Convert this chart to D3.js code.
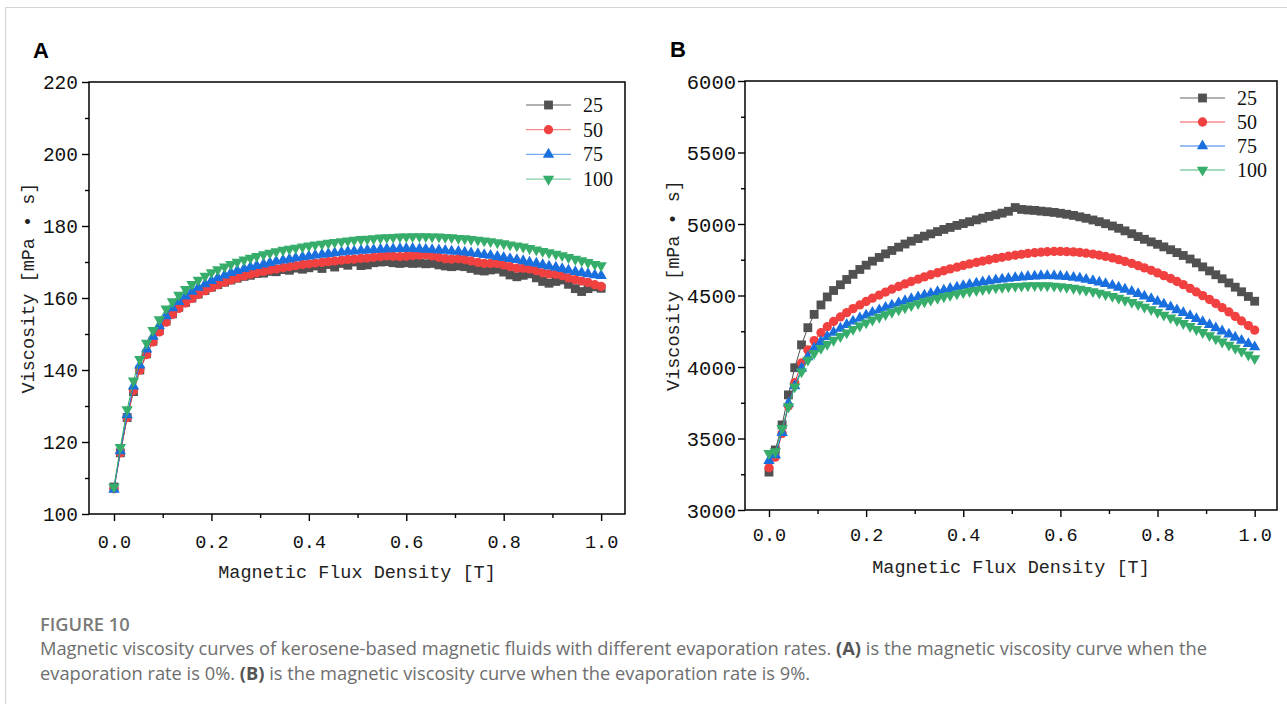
<!DOCTYPE html>
<html>
<head>
<meta charset="utf-8">
<title>Magnetic viscosity curves</title>
<script src="https://cdnjs.cloudflare.com/ajax/libs/d3/7.8.5/d3.min.js"></script>
<style>
  body { margin: 0; background: #fff; }
  svg { display: block; }
</style>
</head>
<body>
<div id="chart"></div>
<script>
// magnetic flux density [T], same sampling for every curve
var flux = [0, 0.013, 0.027, 0.040, 0.053, 0.067, 0.080, 0.093, 0.107, 0.120,
  0.133, 0.147, 0.160, 0.173, 0.187, 0.200, 0.213, 0.227, 0.240, 0.253,
  0.267, 0.280, 0.293, 0.307, 0.320, 0.333, 0.347, 0.360, 0.373, 0.387,
  0.400, 0.413, 0.427, 0.440, 0.453, 0.467, 0.480, 0.493, 0.507, 0.520,
  0.533, 0.547, 0.560, 0.573, 0.587, 0.600, 0.613, 0.627, 0.640, 0.653,
  0.667, 0.680, 0.693, 0.707, 0.720, 0.733, 0.747, 0.760, 0.773, 0.787,
  0.800, 0.813, 0.827, 0.840, 0.853, 0.867, 0.880, 0.893, 0.907, 0.920,
  0.933, 0.947, 0.960, 0.973, 0.987, 1.000];

var rates = ["25", "50", "75", "100"];

// panel A: evaporation rate 0%
var viscA25 = [107.5, 117.0, 126.8, 134.0, 140.0, 144.5, 148.0, 151.0, 153.6, 155.6,
  157.4, 158.8, 160.0, 161.1, 162.1, 163.0, 163.7, 164.4, 165.0, 165.5,
  166.0, 166.3, 166.8, 166.9, 167.4, 167.3, 167.9, 167.7, 168.3, 168.0,
  168.4, 168.9, 168.2, 169.3, 168.6, 169.6, 169.1, 170.0, 169.0, 169.2,
  169.8, 170.0, 170.1, 169.8, 169.6, 169.8, 169.6, 169.7, 169.5, 169.6,
  169.2, 168.9, 168.7, 168.9, 168.7, 168.2, 167.7, 167.5, 167.8, 168.0,
  167.2, 166.4, 165.9, 166.3, 166.7, 165.6, 164.6, 164.1, 164.6, 165.0,
  163.8, 162.6, 161.8, 162.6, 163.1, 162.7];
var viscA50 = [107.0, 117.0, 126.8, 134.3, 140.0, 144.3, 147.8, 150.6, 153.3, 155.4,
  157.1, 158.6, 159.9, 161.0, 162.0, 162.9, 163.7, 164.4, 165.0, 165.6,
  166.1, 166.6, 167.0, 167.4, 167.8, 168.1, 168.4, 168.7, 169.0, 169.3,
  169.5, 169.7, 169.9, 170.1, 170.3, 170.5, 170.7, 170.8, 171.0, 171.1,
  171.3, 171.5, 171.7, 171.6, 171.5, 171.6, 171.8, 171.9, 172.0, 171.7,
  171.3, 170.9, 170.8, 170.9, 170.7, 170.3, 169.9, 169.6, 169.6, 169.6,
  169.2, 168.7, 168.3, 168.3, 168.1, 167.6, 167.0, 166.7, 166.6, 166.2,
  165.6, 165.1, 164.7, 164.3, 163.7, 163.2];
var viscA75 = [106.8, 117.5, 127.5, 135.5, 141.3, 145.8, 149.3, 152.2, 155.0, 157.2,
  159.0, 160.5, 161.8, 162.9, 163.9, 164.8, 165.6, 166.3, 167.0, 167.6,
  168.1, 168.6, 169.0, 169.4, 169.8, 170.2, 170.5, 170.8, 171.1, 171.4,
  171.6, 171.9, 172.1, 172.3, 172.5, 172.7, 172.9, 173.0, 173.2, 173.3,
  173.4, 173.5, 173.6, 173.6, 173.7, 173.7, 173.7, 173.6, 173.5, 173.4,
  173.3, 173.2, 173.0, 172.9, 172.7, 172.5, 172.3, 172.0, 171.8, 171.5,
  171.2, 170.9, 170.6, 170.3, 169.9, 169.6, 169.2, 168.8, 168.5, 168.1,
  167.7, 167.3, 167.0, 166.7, 166.4, 166.2];
var viscA100 = [107.5, 118.5, 129.0, 137.0, 143.0, 147.5, 151.0, 154.0, 157.0, 159.0,
  160.8, 162.4, 163.8, 165.0, 166.1, 167.1, 167.9, 168.7, 169.4, 170.0,
  170.6, 171.1, 171.6, 172.1, 172.5, 172.9, 173.3, 173.6, 173.9, 174.2,
  174.5, 174.8, 175.0, 175.3, 175.5, 175.7, 175.9, 176.1, 176.3, 176.4,
  176.5, 176.7, 176.8, 176.9, 177.0, 177.0, 177.1, 177.1, 177.1, 177.0,
  177.0, 176.9, 176.8, 176.6, 176.5, 176.3, 176.1, 175.9, 175.7, 175.4,
  175.1, 174.8, 174.5, 174.2, 173.8, 173.4, 173.0, 172.6, 172.2, 171.8,
  171.3, 170.8, 170.4, 169.9, 169.4, 169.0];

// panel B: evaporation rate 9%
var viscB25 = [3265, 3420, 3595, 3805, 3995, 4155, 4275, 4368, 4434, 4490,
  4535, 4575, 4612, 4648, 4682, 4712, 4740, 4766, 4791, 4815,
  4838, 4860, 4880, 4898, 4915, 4931, 4947, 4962, 4976, 4990,
  5003, 5016, 5029, 5041, 5053, 5064, 5076, 5089, 5115, 5102,
  5098, 5095, 5090, 5086, 5081, 5075, 5068, 5060, 5050, 5040,
  5028, 5016, 5002, 4986, 4970, 4952, 4932, 4912, 4893, 4875,
  4858, 4840, 4820, 4800, 4780, 4755, 4728, 4700, 4672, 4645,
  4617, 4588, 4558, 4526, 4493, 4460];
var viscB50 = [3295, 3370, 3536, 3727, 3890, 4028, 4119, 4185, 4240, 4282,
  4318, 4350, 4380, 4408, 4434, 4458, 4481, 4503, 4524, 4544,
  4563, 4581, 4598, 4614, 4630, 4645, 4659, 4673, 4686, 4698,
  4710, 4721, 4731, 4741, 4750, 4759, 4767, 4775, 4782, 4788,
  4794, 4799, 4803, 4806, 4808, 4808, 4807, 4805, 4801, 4796,
  4790, 4782, 4773, 4763, 4751, 4738, 4724, 4709, 4693, 4676,
  4658, 4639, 4619, 4598, 4576, 4550, 4525, 4499, 4472, 4444,
  4415, 4385, 4354, 4322, 4290, 4258];
var viscB75 = [3345, 3385, 3541, 3746, 3867, 3990, 4070, 4130, 4177, 4212,
  4242, 4270, 4296, 4320, 4342, 4362, 4381, 4399, 4416, 4432,
  4447, 4462, 4476, 4489, 4502, 4514, 4526, 4537, 4548, 4558,
  4568, 4577, 4586, 4594, 4601, 4608, 4614, 4619, 4624, 4628,
  4632, 4635, 4637, 4638, 4637, 4635, 4631, 4626, 4620, 4612,
  4603, 4593, 4582, 4570, 4557, 4543, 4528, 4512, 4495, 4477,
  4458, 4439, 4419, 4399, 4379, 4358, 4337, 4316, 4295, 4273,
  4251, 4229, 4207, 4185, 4162, 4140];
var viscB100 = [3396, 3408, 3571, 3723, 3862, 3967, 4049, 4096, 4131, 4160,
  4188, 4214, 4240, 4264, 4288, 4310, 4330, 4349, 4367, 4384,
  4400, 4415, 4430, 4444, 4457, 4469, 4481, 4492, 4502, 4512,
  4521, 4529, 4536, 4543, 4549, 4554, 4558, 4562, 4565, 4567,
  4569, 4570, 4570, 4569, 4567, 4563, 4558, 4552, 4545, 4537,
  4528, 4518, 4507, 4495, 4482, 4468, 4453, 4437, 4420, 4402,
  4383, 4364, 4345, 4325, 4305, 4284, 4263, 4242, 4220, 4198,
  4176, 4154, 4132, 4110, 4085, 4060];

var xTicks = [0, 0.2, 0.4, 0.6, 0.8, 1.0];
var xTickLabels = ["0.0", "0.2", "0.4", "0.6", "0.8", "1.0"];
var xMinorTicks = [0.1, 0.3, 0.5, 0.7, 0.9];
var yTicksA = [100, 120, 140, 160, 180, 200, 220];
var yTickLabelsA = ["100", "120", "140", "160", "180", "200", "220"];
var yMinorA = [110, 130, 150, 170, 190, 210];
var yTicksB = [3000, 3500, 4000, 4500, 5000, 5500, 6000];
var yTickLabelsB = ["3000", "3500", "4000", "4500", "5000", "5500", "6000"];
var yMinorB = [3250, 3750, 4250, 4750, 5250, 5750];

var colors = ["#515151", "#F14040", "#1A6FDF", "#37AD6B"];
var symbols = [d3.symbolSquare, d3.symbolCircle, d3.symbolTriangle, d3.symbolTriangle];
var symbolSizes = [78, 68, 56, 56];
var rotations = [0, 0, 0, 180];

var width = 1287, height = 704;
var monoFont = '"Liberation Mono", monospace';

var svg = d3.select("#chart").append("svg")
    .attr("width", width)
    .attr("height", height);

// page frame
svg.append("path")
    .attr("d", "M5.5,704V7.5H1287")
    .attr("fill", "none")
    .attr("stroke", "#d4d4d4")
    .attr("stroke-width", 1.2);

function drawPanel(p) {
  var x = d3.scaleLinear().domain(p.xDomain).range([p.left, p.right]);
  var y = d3.scaleLinear().domain(p.yDomain).range([p.bottom, p.top]);
  var g = svg.append("g");

  // minor ticks
  g.append("g")
      .attr("transform", "translate(0," + p.bottom + ")")
      .call(d3.axisBottom(x).tickValues(xMinorTicks).tickSize(4).tickSizeOuter(0).tickFormat(""))
      .call(function (a) { a.select(".domain").remove(); });
  g.append("g")
      .attr("transform", "translate(" + p.left + ",0)")
      .call(d3.axisLeft(y).tickValues(p.yMinor).tickSize(4).tickSizeOuter(0).tickFormat(""))
      .call(function (a) { a.select(".domain").remove(); });

  // major ticks
  var xa = g.append("g")
      .attr("transform", "translate(0," + p.bottom + ")")
      .call(d3.axisBottom(x).tickValues(xTicks).tickSize(7).tickSizeOuter(0)
        .tickFormat(function (d, i) { return xTickLabels[i]; }));
  xa.select(".domain").remove();
  xa.selectAll("text")
      .attr("y", p.xLabelDy)
      .attr("dy", 0)
      .style("font-family", monoFont)
      .style("font-size", "18.5px")
      .attr("fill", "#111");

  var ya = g.append("g")
      .attr("transform", "translate(" + p.left + ",0)")
      .call(d3.axisLeft(y).tickValues(p.yTicks).tickSize(7).tickSizeOuter(0)
        .tickFormat(function (d, i) { return p.yLabels[i]; }));
  ya.select(".domain").remove();
  ya.selectAll("text")
      .attr("x", -p.yLabelGap)
      .attr("dy", "0.35em")
      .style("font-family", monoFont)
      .style("font-size", p.yFont)
      .attr("fill", "#111");
  g.selectAll(".tick line").attr("stroke-width", 1.4);

  // series
  p.series.forEach(function (vals, k) {
    var pts = flux.map(function (f, i) { return [f, vals[i]]; });
    g.append("path")
        .datum(pts)
        .attr("d", d3.line().x(function (d) { return x(d[0]); }).y(function (d) { return y(d[1]); }))
        .attr("fill", "none")
        .attr("stroke", colors[k])
        .attr("stroke-width", 1);
    g.append("g").selectAll("path")
        .data(pts)
      .enter().append("path")
        .attr("transform", function (d) {
          return "translate(" + x(d[0]) + "," + y(d[1]) + ") rotate(" + rotations[k] + ")";
        })
        .attr("d", d3.symbol().type(symbols[k]).size(symbolSizes[k]))
        .attr("fill", colors[k]);
  });

  // frame
  g.append("rect")
      .attr("x", p.left)
      .attr("y", p.top)
      .attr("width", p.right - p.left)
      .attr("height", p.bottom - p.top)
      .attr("fill", "none")
      .attr("stroke", "#000")
      .attr("stroke-width", 1.5);

  // legend
  rates.forEach(function (r, k) {
    var ly = p.legendY + k * p.legendStep;
    g.append("line")
        .attr("x1", p.legendX).attr("x2", p.legendX + 45)
        .attr("y1", ly).attr("y2", ly)
        .attr("stroke", colors[k])
        .attr("stroke-opacity", 0.6)
        .attr("stroke-width", 1.3);
    g.append("path")
        .attr("transform", "translate(" + (p.legendX + 22.5) + "," + ly + ") rotate(" + rotations[k] + ")")
        .attr("d", d3.symbol().type(symbols[k]).size(symbolSizes[k]))
        .attr("fill", colors[k]);
    g.append("text")
        .attr("x", p.legendX + 57)
        .attr("y", ly)
        .attr("dy", "0.35em")
        .style("font-family", '"Liberation Serif", serif')
        .style("font-size", "20px")
        .attr("fill", "#111")
        .text(r);
  });

  // axis titles
  g.append("text")
      .attr("x", (p.left + p.right) / 2)
      .attr("y", p.bottom + p.xTitleDy)
      .attr("text-anchor", "middle")
      .style("font-family", monoFont)
      .style("font-size", "18.5px")
      .attr("fill", "#222")
      .text("Magnetic Flux Density [T]");
  g.append("text")
      .attr("transform", "translate(" + p.yTitleX + "," + ((p.top + p.bottom) / 2 - 10) + ") rotate(-90)")
      .attr("text-anchor", "middle")
      .style("font-family", monoFont)
      .style("font-size", "18.5px")
      .attr("fill", "#222")
      .text("Viscosity [mPa \u2022 s]");

  // panel letter
  g.append("text")
      .attr("x", p.letterX)
      .attr("y", p.letterY)
      .style("font-family", '"Liberation Sans", Arial, sans-serif')
      .style("font-weight", "bold")
      .style("font-size", "22px")
      .attr("fill", "#000")
      .text(p.letter);
}

drawPanel({
  letter: "A", letterX: 33, letterY: 58,
  left: 89, right: 625, top: 82, bottom: 514,
  xDomain: [-0.0513, 1.049], yDomain: [100, 220],
  yTicks: yTicksA, yLabels: yTickLabelsA, yMinor: yMinorA,
  series: [viscA25, viscA50, viscA75, viscA100],
  xLabelDy: 34, yLabelGap: 11, yFont: "19.5px",
  xTitleDy: 64, yTitleX: 34,
  legendX: 526, legendY: 105, legendStep: 24.7
});

drawPanel({
  letter: "B", letterX: 670, letterY: 57,
  left: 745, right: 1277, top: 81, bottom: 510,
  xDomain: [-0.0494, 1.046], yDomain: [3000, 6000],
  yTicks: yTicksB, yLabels: yTickLabelsB, yMinor: yMinorB,
  series: [viscB25, viscB50, viscB75, viscB100],
  xLabelDy: 31, yLabelGap: 9, yFont: "20.5px",
  xTitleDy: 63, yTitleX: 679,
  legendX: 1180, legendY: 98, legendStep: 24
});

// caption
var capFont = '"Open Sans", "Noto Sans", sans-serif';
var capSize = "18.3px";
svg.append("text")
    .attr("x", 40).attr("y", 631)
    .style("font-family", capFont)
    .style("font-size", capSize)
    .style("font-weight", 600)
    .attr("fill", "#7a7a7a")
    .text("FIGURE 10");

var line1 = svg.append("text")
    .attr("x", 40).attr("y", 655)
    .style("font-family", capFont)
    .style("font-size", capSize)
    .attr("fill", "#6e6e6e");
line1.append("tspan").text("Magnetic viscosity curves of kerosene-based magnetic fluids with different evaporation rates. ");
line1.append("tspan").style("font-weight", "bold").attr("fill", "#555").text("(A)");
line1.append("tspan").text(" is the magnetic viscosity curve when the");

var line2 = svg.append("text")
    .attr("x", 40).attr("y", 680)
    .style("font-family", capFont)
    .style("font-size", capSize)
    .attr("fill", "#6e6e6e");
line2.append("tspan").text("evaporation rate is 0%. ");
line2.append("tspan").style("font-weight", "bold").attr("fill", "#555").text("(B)");
line2.append("tspan").text(" is the magnetic viscosity curve when the evaporation rate is 9%.");
</script>
</body>
</html>
